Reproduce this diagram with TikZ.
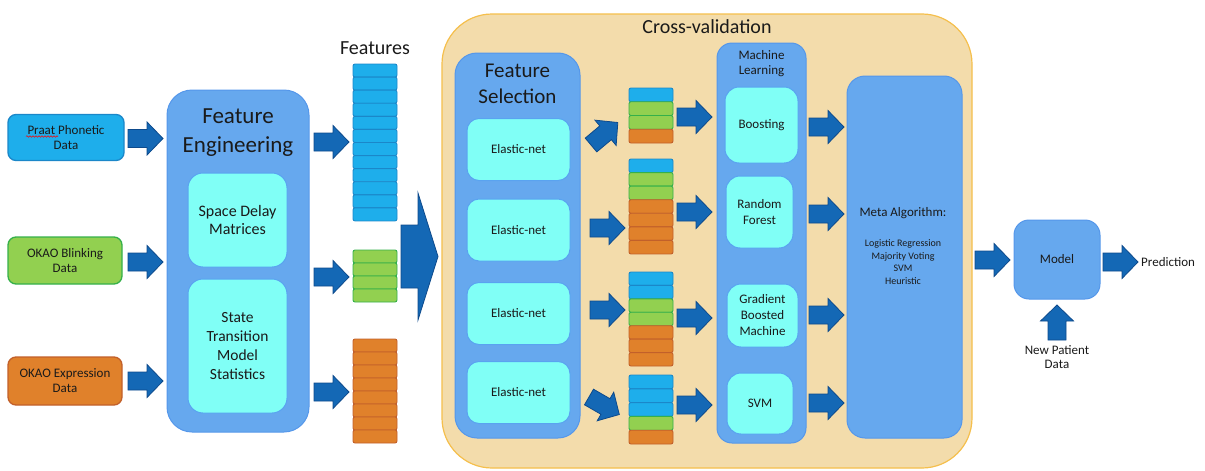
\documentclass[tikz,border=0pt]{standalone}
\usepackage{fontspec}
\setmainfont{Carlito}
\usetikzlibrary{decorations.pathmorphing}
\definecolor{bluefill}{HTML}{1EAEEB}
\definecolor{blueline}{HTML}{1B87C9}
\definecolor{greenfill}{HTML}{92D050}
\definecolor{greenline}{HTML}{35B04A}
\definecolor{orangefill}{HTML}{E0812B}
\definecolor{orangeline}{HTML}{C2602A}
\definecolor{arrowfill}{HTML}{1468B5}
\definecolor{arrowline}{HTML}{0D4A8C}
\definecolor{panel}{HTML}{66A8EE}
\definecolor{panelline}{HTML}{5597EA}
\definecolor{cyanbox}{HTML}{80FFF6}
\definecolor{cyanline}{HTML}{5AA3F0}
\definecolor{beige}{HTML}{F3DCAB}
\definecolor{beigeline}{HTML}{F5BF4C}
\definecolor{ink}{HTML}{1A1A1A}
\newcommand\cellstack[5]{%
  \foreach \c [count=\i from 0] in {#5}{%
    \draw[cell=\c] (#1,{#3+\i*#4}) rectangle (#2,{#3+(\i+1)*#4});
  }}
% tail x, tail y, angle, length, half shaft, half head, head length
\newcommand\fatarrow[7]{%
  \draw[fatarrowstyle, shift={(#1,#2)}, rotate=#3]
    (0,#5) -- ({#4-#7},#5) -- ({#4-#7},#6) -- (#4,0) -- ({#4-#7},-#6)
    -- ({#4-#7},-#5) -- (0,-#5) -- cycle;}
\newcommand\blockarrow[3]{\fatarrow{#1}{#2}{#3}{35}{9}{16.5}{16}}
\begin{document}
\begin{tikzpicture}[x=1pt,y=-1pt,
  txt/.style={text=ink, align=center, inner sep=0pt},
  fs13/.style={font=\fontsize{13}{15}\selectfont},
  inbox/.style={txt, fs13, rounded corners=8pt, line width=1.3pt},
  panelbox/.style={fill=panel, draw=panelline, line width=1pt},
  cyanbx/.style={txt, fill=cyanbox, draw=cyanline, line width=1pt},
  fatarrowstyle/.style={draw=arrowline, fill=arrowfill, line width=0.8pt, line join=miter},
  cell/.style={rounded corners=2pt, line width=0.9pt, fill=#1fill, draw=#1line}]
\useasboundingbox (0,0) rectangle (1205,471);

% ---------- inputs ----------
\node[inbox, fill=bluefill, draw=blueline, minimum width=116pt, minimum height=46pt] (praat) at (66,137.5) {Praat Phonetic\\Data};
\draw[red, line width=0.5pt, decorate, decoration={snake, amplitude=0.8pt, segment length=3pt}] (26,136.5) -- (58,136.5);
\node[inbox, fill=greenfill, draw=greenline, minimum width=114pt, minimum height=47pt] (blink) at (65,260.5) {OKAO Blinking\\Data};
\node[inbox, fill=orangefill, draw=orangeline, minimum width=114pt, minimum height=48pt] (expr) at (65,381) {OKAO Expression\\Data};

% ---------- feature engineering ----------
\node[panelbox, rounded corners=25pt, minimum width=142pt, minimum height=342pt] (fe) at (238,261) {};
\node[txt, font=\fontsize{23}{29}\selectfont] (fetitle) at (238,133) {Feature\\Engineering};
\node[cyanbx, rounded corners=15pt, minimum width=99pt, minimum height=94pt, font=\fontsize{16}{18}\selectfont] (sdm) at (237.5,220) {Space Delay\\Matrices};
\node[cyanbx, rounded corners=15pt, minimum width=99pt, minimum height=134pt, font=\fontsize{15.5}{19}\selectfont] (stm) at (237.5,346) {State\\Transition\\Model\\Statistics};

\blockarrow{128}{138.5}{0}
\blockarrow{128}{262}{0}
\blockarrow{128}{381}{0}

% ---------- features ----------
\node[txt, font=\fontsize{20}{24}\selectfont] (featlbl) at (375,48) {Features};
\blockarrow{314}{142}{0}
\blockarrow{314}{277}{0}
\blockarrow{314}{392}{0}
\cellstack{353}{397}{64}{13.08}{blue,blue,blue,blue,blue,blue,blue,blue,blue,blue,blue,blue}
\cellstack{353}{397}{250}{13}{green,green,green,green}
\cellstack{353}{397}{339}{13}{orange,orange,orange,orange,orange,orange,orange,orange}

\fatarrow{401}{256.5}{0}{37}{31.5}{63.5}{20}

% ---------- cross-validation ----------
\node[fill=beige, draw=beigeline, line width=1.2pt, rounded corners=50pt, minimum width=530pt, minimum height=454pt] (cv) at (707,241) {};
\node[txt, font=\fontsize{20}{24}\selectfont] (cvtitle) at (707,27) {Cross-validation};

\node[panelbox, rounded corners=22pt, minimum width=125pt, minimum height=385pt] (fsel) at (517.5,245.5) {};
\node[txt, font=\fontsize{21}{26}\selectfont] (fstitle) at (517.5,84) {Feature\\Selection};
\foreach \n/\y in {1/149.5,2/230,3/313.5,4/392.5}
  \node[cyanbx, rounded corners=12pt, minimum width=103pt, minimum height=62pt, fs13] (en\n) at (518.5,\y) {Elastic-net};

% selection arrows
\blockarrow{591}{145}{40}
\blockarrow{590}{228}{0}
\blockarrow{590}{310}{0}
\blockarrow{589}{397}{-30}

% stacks
\cellstack{629}{673}{88}{13.75}{blue,green,green,orange}
\cellstack{629}{673}{159}{13.57}{blue,green,green,orange,orange,orange,orange}
\cellstack{629}{673}{272}{13.43}{blue,blue,green,green,orange,orange,orange}
\cellstack{629}{673}{375}{13.8}{blue,blue,blue,green,orange}

\blockarrow{677}{117}{0}
\blockarrow{677}{212}{0}
\blockarrow{677}{318}{0}
\blockarrow{677}{405}{0}

% machine learning
\node[panelbox, rounded corners=15pt, minimum width=89pt, minimum height=400pt] (ml) at (761.5,243) {};
\node[txt, fs13] (mltitle) at (761.5,63.5) {Machine\\Learning};
\node[cyanbx, rounded corners=14pt, minimum width=73pt, minimum height=76pt, fs13] (boost) at (761.5,125) {Boosting};
\node[cyanbx, rounded corners=14pt, minimum width=67pt, minimum height=72pt, font=\fontsize{13}{16.5}\selectfont] (rf) at (759.5,212) {Random\\Forest};
\node[cyanbx, rounded corners=14pt, minimum width=71pt, minimum height=63pt, font=\fontsize{13}{16}\selectfont] (gbm) at (762.5,315.5) {Gradient\\Boosted\\Machine};
\node[cyanbx, rounded corners=14pt, minimum width=66pt, minimum height=61pt, fs13] (svm) at (760,403.5) {SVM};

\blockarrow{809}{127}{0}
\blockarrow{809}{214}{0}
\blockarrow{809}{315}{0}
\blockarrow{809}{403}{0}

% meta
\node[panelbox, rounded corners=18pt, minimum width=115pt, minimum height=362pt] (meta) at (904.5,257) {};
\node[txt, fs13] (metatitle) at (903,213) {Meta Algorithm:};
\node[txt, font=\fontsize{10}{12.7}\selectfont] (metalist) at (903,262) {Logistic Regression\\Majority Voting\\SVM\\Heuristic};

% ---------- model ----------
\blockarrow{975}{260}{0}
\node[panelbox, rounded corners=15pt, minimum width=86pt, minimum height=79pt, txt, fs13] (model) at (1057,259.5) {Model};
\blockarrow{1103}{262}{0}
\node[txt, fs13, anchor=west] (pred) at (1141,262) {Prediction};
\blockarrow{1057}{340}{90}
\node[txt, font=\fontsize{13}{14}\selectfont] (newpat) at (1057,357) {New Patient\\Data};
\end{tikzpicture}
\end{document}
